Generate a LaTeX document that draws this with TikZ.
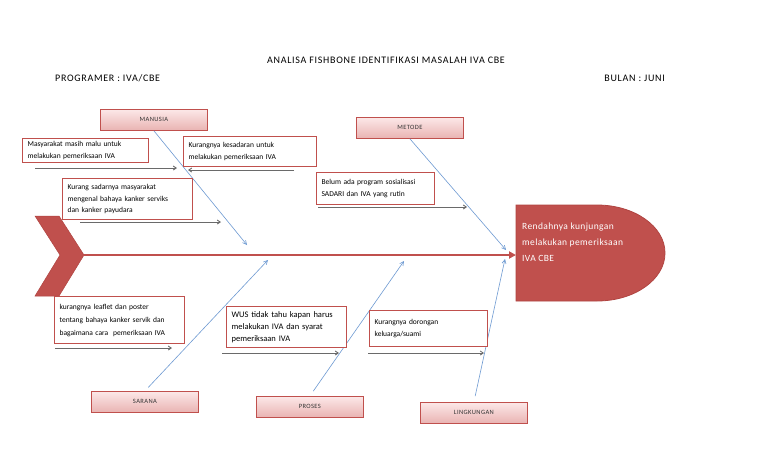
\documentclass[tikz,border=0pt]{standalone}
\usepackage{fontspec}
\setmainfont{Carlito}
\usetikzlibrary{arrows.meta,calc}
\definecolor{redc}{HTML}{C0504D}
\definecolor{redb}{HTML}{B04441}
\definecolor{pinkA}{HTML}{FCE8E8}
\definecolor{pinkB}{HTML}{E9B3B2}
\definecolor{bluel}{HTML}{6E9AD2}
\definecolor{greyl}{HTML}{6A6A6A}
\begin{document}
\begin{tikzpicture}[x=1pt,y=-1pt,
  cat/.style={draw=redc, line width=0.8pt, top color=pinkA, bottom color=pinkB,
    minimum width=107pt, minimum height=21pt, anchor=north west, inner sep=0pt,
    font=\fontsize{6.5}{7}\selectfont\addfontfeature{LetterSpace=6}, text=black!80},
  cause/.style={draw=redc, line width=1.2pt, fill=white, anchor=north west,
    align=left, inner xsep=5pt, inner ysep=0pt, font=\fontsize{7.5}{11.5}\selectfont, text=black},
  garrow/.style={draw=greyl, line width=0.9pt, -{Straight Barb[length=3pt,width=4pt]}},
  bone/.style={draw=bluel, line width=0.6pt, -{Straight Barb[length=4pt,width=4pt]}},
  hdr/.style={font=\fontsize{10}{11}\selectfont\addfontfeature{LetterSpace=7}, inner sep=0pt}]
\path[use as bounding box, fill=white] (0,0) rectangle (768,466);

% header
\node[hdr] (title) at (386,60) {ANALISA FISHBONE IDENTIFIKASI MASALAH IVA CBE};
\node[hdr, anchor=west] (prog) at (55,78) {PROGRAMER : IVA/CBE};
\node[hdr, anchor=east] (bulan) at (665,78) {BULAN : JUNI};

% tail chevron
\path[fill=redc, draw=redb, line width=0.5pt] (35,216) -- (59,216) -- (84,255) -- (59,296) -- (35,296) -- (60,255) -- cycle;
\coordinate (tailtip) at (84,255);

% head
\path[fill=redc, draw=redb, line width=0.8pt] (516,205) -- (597,205)
  .. controls (634.6,205) and (665,226.5) .. (665,253)
  .. controls (665,279.5) and (634.6,301) .. (597,301) -- (516,301) -- cycle;
\coordinate (headin) at (516,255);
\node[anchor=north west, inner sep=0pt, align=left, text=white, font=\fontsize{9.5}{16}\selectfont\addfontfeature{LetterSpace=4}] (effect) at (522,223)
  {Rendahnya kunjungan\\melakukan pemeriksaan\\IVA CBE};

% spine
\draw[draw=redc, line width=2.4pt, -{Triangle[length=7pt,width=7pt]}] (tailtip) -- (headin);

% category boxes
\node[cat] (manusia) at (100,109) {MANUSIA};
\node[cat] (metode) at (356,117) {METODE};
\node[cat] (sarana) at (91,391) {SARANA};
\node[cat] (proses) at (256,396) {PROSES};
\node[cat] (lingkungan) at (420,402) {LINGKUNGAN};

% bone end points
\coordinate (bm) at (247,245);
\coordinate (bt) at (506,250);
\coordinate (bs) at (268,260);
\coordinate (bp) at (404,261);
\coordinate (bl) at (505,259);

\draw[bone] (manusia.south) -- (bm);
\draw[bone] (metode.south) -- (bt);
\draw[bone, shorten <=5pt] (sarana.north) -- (bs);
\draw[bone, shorten <=6pt] (proses.north) -- (bp);
\draw[bone, shorten <=6pt] (lingkungan.north) -- (bl);

% cause boxes
\node[cause, minimum width=126pt, minimum height=24pt, text width=116pt] (c1) at (22,138)
  {Masyarakat masih malu untuk\\melakukan pemeriksaan IVA};
\node[cause, minimum width=133pt, minimum height=30pt, text width=123pt] (c2) at (183,136)
  {Kurangnya kesadaran untuk\\melakukan pemeriksaan IVA};
\node[cause, minimum width=130pt, minimum height=41pt, text width=120pt] (c3) at (62,178)
  {Kurang sadarnya masyarakat\\mengenal bahaya kanker serviks\\dan kanker payudara};
\node[cause, minimum width=118pt, minimum height=32pt, text width=108pt] (c4) at (316,172)
  {Belum ada program sosialisasi\\SADARI dan IVA yang rutin};
\node[cause, minimum width=130pt, minimum height=47pt, text width=120pt, font=\fontsize{7.5}{13}\selectfont] (c5) at (54,296)
  {kurangnya leaflet dan poster\\tentang bahaya kanker servik dan\\bagaimana cara\ \ pemeriksaan IVA};
\node[cause, minimum width=120pt, minimum height=41pt, text width=110pt, font=\fontsize{8.5}{12}\selectfont] (c6) at (226,306)
  {WUS tidak tahu kapan harus\\melakukan IVA dan syarat\\pemeriksaan IVA};
\node[cause, minimum width=118pt, minimum height=36pt, text width=108pt] (c7) at (369,310)
  {Kurangnya dorongan\\keluarga/suami};

% gray arrows
\coordinate (a1s) at (35,168);  \coordinate (a1e) at (177,168);
\coordinate (a2s) at (294,170); \coordinate (a2e) at (188,170);
\coordinate (a3s) at (80,222);  \coordinate (a3e) at (221,222);
\coordinate (a4s) at (318,207); \coordinate (a4e) at (467,207);
\coordinate (a5s) at (55,348);  \coordinate (a5e) at (172,348);
\coordinate (a6s) at (222,353); \coordinate (a6e) at (339,353);
\coordinate (a7s) at (368,353); \coordinate (a7e) at (484,353);
\draw[garrow] (a1s) -- (a1e);
\draw[garrow] (a2s) -- (a2e);
\draw[garrow] (a3s) -- (a3e);
\draw[garrow] (a4s) -- (a4e);
\draw[garrow] (a5s) -- (a5e);
\draw[garrow] (a6s) -- (a6e);
\draw[garrow] (a7s) -- (a7e);
\end{tikzpicture}
\end{document}
